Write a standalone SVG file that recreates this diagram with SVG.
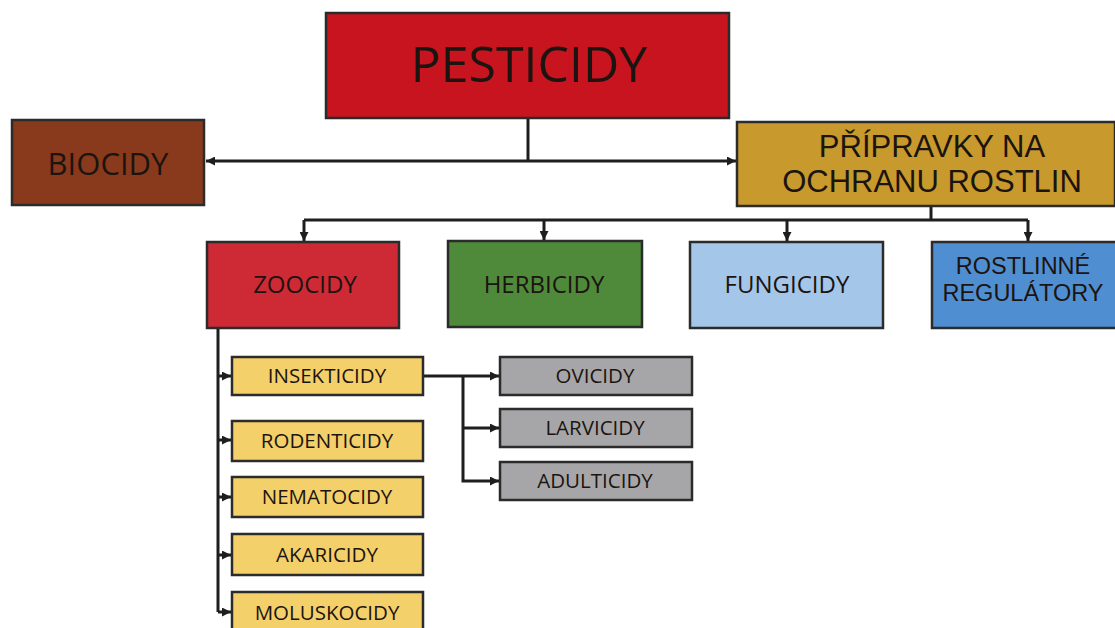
<svg xmlns="http://www.w3.org/2000/svg" width="1115" height="628" viewBox="0 0 1115 628">
<defs>
<marker id="ah" viewBox="0 0 10 10" refX="10" refY="5" markerWidth="9" markerHeight="9" markerUnits="userSpaceOnUse" orient="auto">
<path d="M0,0 L10,5 L0,10 z" fill="#1e1e1e"/>
</marker>
<style>
.box{stroke:#2b2b2b;stroke-width:2.5}
.t{font-family:"Open Sans","Liberation Sans",sans-serif;fill:#1c1410;text-anchor:middle}
.t2{font-family:"Liberation Sans",Arial,sans-serif;fill:#1c1410;text-anchor:middle}
.s{font-size:20.5px}
.c{fill:none;stroke:#1e1e1e;stroke-width:3}
.y{fill:#F3D06A}
.g{fill:#A6A6A8}
</style>
</defs>
<rect width="1115" height="628" fill="#ffffff"/>
<g id="connectors">
<path class="c" d="M528,118 V161"/>
<path class="c" d="M528,161 H206" marker-end="url(#ah)"/>
<path class="c" d="M528,161 H736" marker-end="url(#ah)"/>
<path class="c" d="M931,206 V220"/>
<path class="c" d="M304,220 H1028"/>
<path class="c" d="M304,220 V241" marker-end="url(#ah)"/>
<path class="c" d="M544,220 V240" marker-end="url(#ah)"/>
<path class="c" d="M787,220 V241" marker-end="url(#ah)"/>
<path class="c" d="M1028,220 V241" marker-end="url(#ah)"/>
<path class="c" d="M218,328 V612"/>
<path class="c" d="M218,376 H231" marker-end="url(#ah)"/>
<path class="c" d="M218,440 H231" marker-end="url(#ah)"/>
<path class="c" d="M218,497 H231" marker-end="url(#ah)"/>
<path class="c" d="M218,555 H231" marker-end="url(#ah)"/>
<path class="c" d="M218,612 H231" marker-end="url(#ah)"/>
<path class="c" d="M423,376 H499" marker-end="url(#ah)"/>
<path class="c" d="M463,376 V481 H499" marker-end="url(#ah)"/>
<path class="c" d="M463,428 H499" marker-end="url(#ah)"/>
</g>
<g id="pesticidy">
<rect class="box" x="326" y="13" width="403" height="105" fill="#C8141E"/>
<text class="t" x="529" y="82" font-size="50">PESTICIDY</text>
</g>
<g id="biocidy">
<rect class="box" x="12" y="120" width="192" height="85" fill="#8A3A1C"/>
<text class="t" x="108" y="175" font-size="31">BIOCIDY</text>
</g>
<g id="pripravky">
<rect class="box" x="737" y="122" width="378" height="84" fill="#C8992C"/>
<text class="t2" x="932" y="157" font-size="31">PŘÍPRAVKY NA</text>
<text class="t2" x="932" y="192" font-size="31">OCHRANU ROSTLIN</text>
</g>
<g id="zoocidy">
<rect class="box" x="207" y="242" width="192" height="86" fill="#CE2A35"/>
<text class="t" x="305" y="293" font-size="24">ZOOCIDY</text>
</g>
<g id="herbicidy">
<rect class="box" x="448" y="241" width="194" height="86" fill="#4E8A3A"/>
<text class="t" x="544" y="293" font-size="24">HERBICIDY</text>
</g>
<g id="fungicidy">
<rect class="box" x="690" y="242" width="193" height="86" fill="#A4C7E9"/>
<text class="t" x="787" y="293" font-size="24">FUNGICIDY</text>
</g>
<g id="regulatory">
<rect class="box" x="932" y="242" width="185" height="86" fill="#4F8FD1"/>
<text class="t2" x="1023" y="274" font-size="23.5">ROSTLINNÉ</text>
<text class="t2" x="1023" y="301" font-size="23.5">REGULÁTORY</text>
</g>
<g id="insekticidy">
<rect class="box y" x="232" y="357" width="191" height="38"/>
<text class="t s" x="327" y="383">INSEKTICIDY</text>
</g>
<g id="rodenticidy">
<rect class="box y" x="232" y="421" width="191" height="40"/>
<text class="t s" x="327" y="448">RODENTICIDY</text>
</g>
<g id="nematocidy">
<rect class="box y" x="232" y="477" width="191" height="40"/>
<text class="t s" x="327" y="504">NEMATOCIDY</text>
</g>
<g id="akaricidy">
<rect class="box y" x="232" y="534" width="191" height="41"/>
<text class="t s" x="327" y="562">AKARICIDY</text>
</g>
<g id="moluskocidy">
<rect class="box y" x="232" y="592" width="191" height="40"/>
<text class="t s" x="327" y="620">MOLUSKOCIDY</text>
</g>
<g id="ovicidy">
<rect class="box g" x="500" y="357" width="192" height="38"/>
<text class="t s" x="595" y="383">OVICIDY</text>
</g>
<g id="larvicidy">
<rect class="box g" x="500" y="409" width="192" height="38"/>
<text class="t s" x="595" y="435">LARVICIDY</text>
</g>
<g id="adulticidy">
<rect class="box g" x="500" y="462" width="192" height="38"/>
<text class="t s" x="595" y="488">ADULTICIDY</text>
</g>
</svg>
